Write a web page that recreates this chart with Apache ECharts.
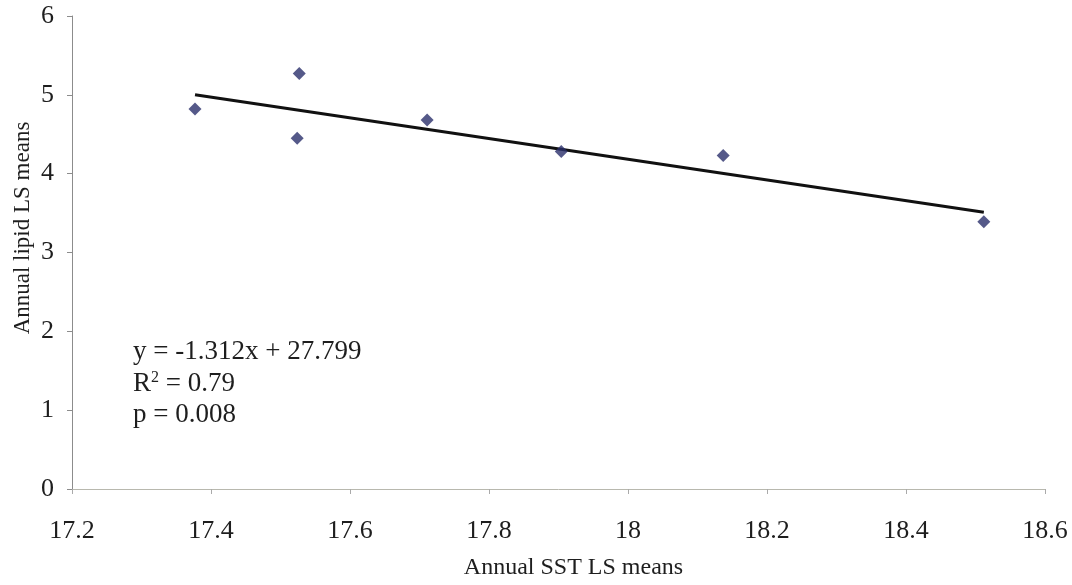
<!DOCTYPE html>
<html>
<head>
<meta charset="utf-8">
<script src="https://cdn.jsdelivr.net/npm/echarts@6/dist/echarts.min.js"></script>
<style>
  html, body { margin: 0; padding: 0; background: #fff; }
  #chart { width: 1072px; height: 585px; }
</style>
</head>
<body>
<div id="chart"></div>
<script>
// Annual SST least-squares means (x) and annual lipid least-squares means (y)
const sstMeans = [17.377, 17.527, 17.524, 17.711, 17.904, 18.137, 18.512];
const lipidMeans = [4.82, 5.27, 4.45, 4.68, 4.28, 4.23, 3.39];

// Linear fit reported on the chart
const fitSlope = -1.312;
const fitIntercept = 27.799;
const fitLabels = ['y = -1.312x + 27.799', 'R{sup|2} = 0.79', 'p = 0.008'];

const xTicks = { min: 17.2, max: 18.6, step: 0.2 };
const yTicks = { min: 0, max: 6, step: 1 };

const points = sstMeans.map((x, i) => [x, lipidMeans[i]]);
const xLo = Math.min(...sstMeans), xHi = Math.max(...sstMeans);
const fitLine = [xLo, xHi].map(x => [x, fitSlope * x + fitIntercept]);

const serif = '"Liberation Serif", "DejaVu Serif", serif';
const ink = '#1e1e1e';
const chart = echarts.init(document.getElementById('chart'));

chart.setOption({
  backgroundColor: '#fff',
  animation: false,
  grid: { left: 72, right: 27, top: 16, bottom: 91 },
  xAxis: {
    type: 'value',
    min: xTicks.min, max: xTicks.max, interval: xTicks.step,
    name: 'Annual SST LS means',
    nameLocation: 'middle', nameGap: 67,
    nameTextStyle: { fontFamily: serif, fontSize: 24, color: ink, padding: [0, 0, 0, 30] },
    axisLine: { show: true, onZero: false, lineStyle: { color: '#b8b8ae', width: 1 } },
    axisTick: { show: true, inside: false, length: 5, lineStyle: { color: '#aaa' } },
    axisLabel: {
      fontFamily: serif, fontSize: 26, color: ink, margin: 29,
      formatter: v => String(parseFloat(v.toFixed(1)))
    },
    splitLine: { show: false }
  },
  yAxis: {
    type: 'value',
    min: yTicks.min, max: yTicks.max, interval: yTicks.step,
    axisLine: { show: true, lineStyle: { color: '#8c8c8c', width: 1 } },
    axisTick: { show: true, inside: false, length: 5, lineStyle: { color: '#8c8c8c' } },
    axisLabel: { fontFamily: serif, fontSize: 26, color: ink, margin: 18 },
    splitLine: { show: false }
  },
  series: [
    {
      type: 'line',
      data: fitLine,
      symbol: 'none',
      lineStyle: { color: '#111', width: 3 },
      z: 2
    },
    {
      type: 'scatter',
      data: points,
      symbol: 'diamond',
      symbolSize: 13,
      itemStyle: { color: '#2a2f6b' },
      z: 3
    }
  ],
  graphic: [
    {
      type: 'text',
      x: 23, y: 228,
      rotation: Math.PI / 2,
      style: {
        text: 'Annual lipid LS means',
        font: '23px ' + serif,
        fill: ink,
        align: 'center',
        verticalAlign: 'middle'
      }
    }
  ].concat(fitLabels.map((t, i) => ({
    type: 'text',
    x: 133,
    y: 352 + i * 31.5,
    style: {
      text: t,
      font: '27px ' + serif,
      fill: ink,
      verticalAlign: 'middle',
      rich: {
        sup: { font: '16px ' + serif, fill: ink, verticalAlign: 'top', padding: [0, 0, 12, 0] }
      }
    }
  })))
});
</script>
</body>
</html>
